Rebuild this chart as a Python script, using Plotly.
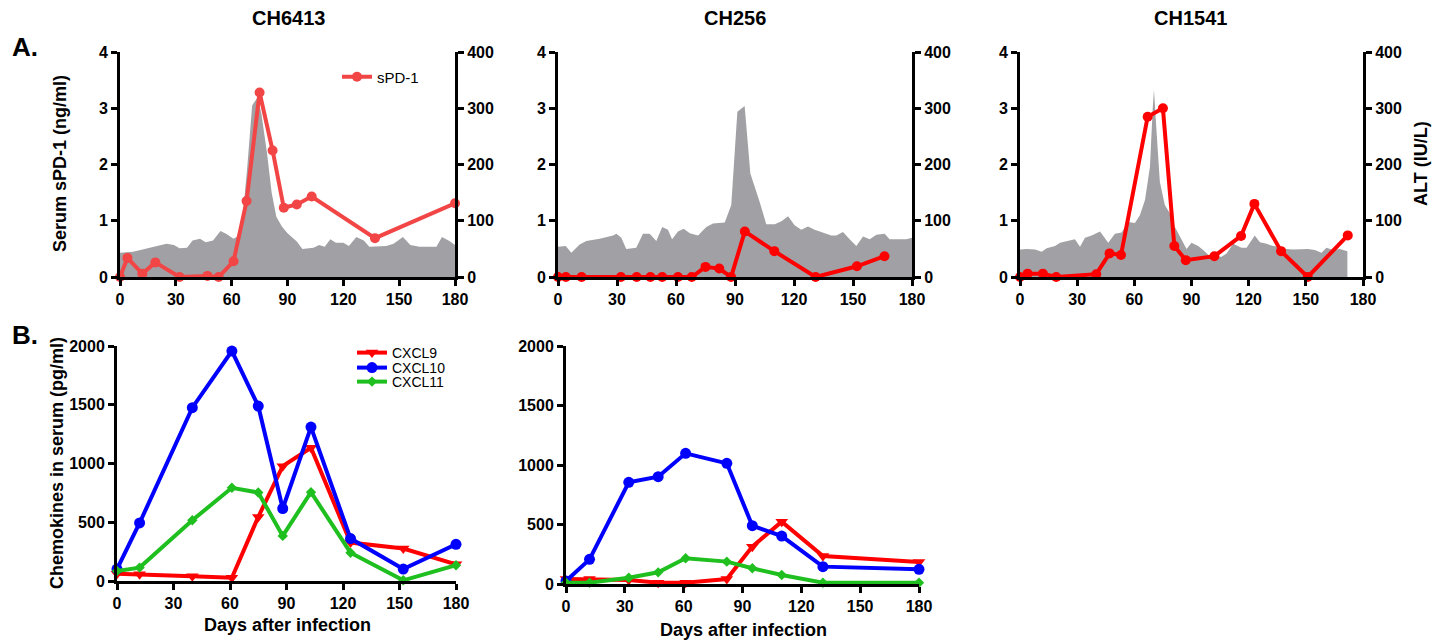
import plotly.graph_objects as go

W, H = 1444, 640
FONT = "Liberation Sans, Arial, sans-serif"

# ---------------- data ----------------
panel_titles = ["CH6413", "CH256", "CH1541"]
x_ticks = [0, 30, 60, 90, 120, 150, 180]
spd_ticks = [0, 1, 2, 3, 4]
alt_ticks = [0, 100, 200, 300, 400]
chemo_ticks = [0, 500, 1000, 1500, 2000]

# CH6413
spd_days_1 = [0, 4, 12, 19, 32, 47, 53, 61, 68, 75, 82, 88, 95, 103, 137, 180]
spd_1 = [0, 0.34, 0.06, 0.26, 0, 0.02, 0, 0.28, 1.35, 3.28, 2.25, 1.23, 1.29, 1.43, 0.69, 1.31]
alt_days_1 = [0, 7, 11, 18, 25, 29, 32, 36, 39, 43, 46, 50, 54, 57, 61, 63, 66, 68.5, 71, 74, 76, 79,
              81.5, 84, 87, 90, 95, 98, 104, 107, 110, 113, 116, 120, 123, 127, 131, 134, 140, 143,
              147, 152, 156, 161, 166, 170, 173, 177, 180]
alt_1 = [43, 45, 48, 54, 59, 57, 51, 52, 65, 68, 62, 65, 82, 77, 68, 72, 110, 200, 305, 320, 290, 220,
         150, 107, 90, 78, 63, 50, 52, 57, 54, 67, 61, 61, 55, 71, 65, 54, 54, 55,
         59, 71, 57, 54, 54, 54, 71, 64, 57]

# CH256
spd_days_2 = [0, 4, 12, 32, 40, 47, 53, 61, 68, 75, 82, 88, 95, 110, 131, 152, 166]
spd_2 = [0, 0, 0, 0, 0, 0, 0, 0, 0, 0.18, 0.15, 0, 0.81, 0.46, 0, 0.19, 0.37]
alt_days_2 = [0, 3.9, 6.8, 11, 14.4, 21.2, 28, 29.7, 32.2, 34.7, 39.8, 43.2, 46.6, 50, 53, 55.9, 58,
              61, 63.9, 67, 71.2, 75.4, 78.8, 84.8, 88.1, 91.2, 94.9, 97.8, 102.5, 105.9, 110.2,
              113.6, 117, 120.3, 123.7, 127.1, 130.5, 133.9, 139, 141.5, 144.9, 148.3, 151.7,
              155.1, 158.5, 161.9, 166.1, 168.6, 173.7, 177.1, 180]
alt_2 = [54, 55, 43, 58, 64, 68, 74, 77, 70, 50, 52, 77, 77, 64, 89, 84, 67, 81, 86, 78, 74, 89, 95,
         97, 128, 294, 304, 184, 134, 94, 94, 99, 108, 92, 84, 90, 84, 80, 74, 74, 80, 67, 55, 72,
         67, 75, 77, 67, 67, 67, 70]

# CH1541
spd_days_3 = [0, 4, 12, 19, 40, 47, 53, 67, 75, 81, 87, 102, 116, 123, 137, 151, 172]
spd_3 = [0, 0.06, 0.06, 0, 0.05, 0.42, 0.39, 2.85, 3.0, 0.55, 0.3, 0.37, 0.73, 1.3, 0.46, 0, 0.74]
alt_days_3 = [0, 3.5, 7.9, 11.4, 14, 18.4, 21, 25.3, 28.8, 31.5, 34.1, 37.6, 42, 46.3, 49.8, 53.3,
              56.8, 60.3, 62.9, 65.6, 68.2, 69.6, 70.3, 71.7, 73.4, 76, 78.7, 81.3, 84.8, 87.4, 90,
              93.5, 96.1, 99.6, 102.3, 105.8, 108.4, 111.9, 116.2, 118.9, 123.2, 125.9, 129.4,
              132.8, 136.3, 139.8, 143.3, 146.8, 151.2, 154.7, 158.2, 160.8, 164.3, 167.8, 171.8]
alt_3 = [49, 50, 49, 45, 51, 55, 61, 65, 67, 54, 70, 74, 81, 61, 77, 79, 98, 96, 110, 137, 196, 297,
         333, 256, 169, 128, 113, 89, 65, 50, 61, 55, 48, 37, 36, 36, 42, 59, 52, 52, 74, 62, 59,
         55, 54, 50, 49, 50, 50, 48, 43, 52, 48, 50, 46]

# Chemokines, CH6413
chemo_days_1 = [0, 12, 40, 61, 75, 88, 103, 124, 152, 180]
cxcl9_1 = [62, 57, 40, 28, 545, 977, 1134, 327, 276, 142]
cxcl10_1 = [102, 494, 1475, 1957, 1489, 617, 1310, 361, 102, 312]
cxcl11_1 = [85, 114, 517, 793, 753, 384, 756, 241, 6, 134]

# Chemokines, CH256
chemo_days_2 = [0, 12, 32, 47, 61, 82, 95, 110, 131, 180]
cxcl9_2 = [42, 42, 34, 11, 11, 42, 314, 524, 235, 185]
cxcl10_2 = [25, 207, 854, 902, 1098, 1014, 490, 403, 146, 123]
cxcl11_2 = [11, 11, 53, 98, 216, 188, 132, 76, 11, 11]

# ---------------- layout helpers ----------------
def fx(p):
    return p / W

def fy(p):
    return 1 - p / H

GRAY = "#a1a1a5"
RED = "#ff0000"
RED1 = "#f24545"
BLUE = "#0000ff"
GREEN = "#1fbf1f"

tickfont = dict(family=FONT, size=16, color="black", weight="bold")

def axis_common(**kw):
    d = dict(showline=True, linecolor="black", linewidth=3, ticks="outside", ticklen=6,
             tickwidth=3, tickcolor="black", showgrid=False, zeroline=False,
             tickfont=tickfont, fixedrange=True, automargin=False)
    d.update(kw)
    return d

fig = go.Figure()

top_x_domains = [(120, 455), (558, 912), (1020, 1363)]
top_y_domain = [fy(277), fy(52)]
spd_sets = [(spd_days_1, spd_1, RED1), (spd_days_2, spd_2, RED), (spd_days_3, spd_3, RED)]
alt_sets = [(alt_days_1, alt_1), (alt_days_2, alt_2), (alt_days_3, alt_3)]

layout = dict(width=W, height=H, autosize=False, margin=dict(l=0, r=0, t=0, b=0, pad=0),
              paper_bgcolor="white", plot_bgcolor="white", showlegend=True, template="none")

for i in range(3):
    xn = "x" if i == 0 else f"x{i+1}"
    ya = 2 * i + 1
    yb = 2 * i + 2
    ya_n = "y" if ya == 1 else f"y{ya}"
    yb_n = f"y{yb}"
    ad, av = alt_sets[i]
    fig.add_trace(go.Scatter(x=ad, y=av, mode="lines", fill="tozeroy", fillcolor=GRAY,
                             line=dict(width=0, color=GRAY), xaxis=xn, yaxis=ya_n,
                             showlegend=False, hoverinfo="skip"))
    sd, sv, col = spd_sets[i]
    fig.add_trace(go.Scatter(x=sd, y=sv, mode="lines+markers", name="sPD-1",
                             line=dict(color=col, width=4), marker=dict(color=col, size=10),
                             xaxis=xn, yaxis=yb_n, cliponaxis=False,
                             showlegend=(i == 0), legend="legend"))
    xkey = "xaxis" if i == 0 else f"xaxis{i+1}"
    layout[xkey] = axis_common(domain=[fx(top_x_domains[i][0]), fx(top_x_domains[i][1])],
                               range=[0, 180], tickvals=x_ticks, anchor=ya_n)
    yak = "yaxis" if ya == 1 else f"yaxis{ya}"
    layout[yak] = axis_common(domain=top_y_domain, range=[0, 400], tickvals=alt_ticks,
                              side="right", anchor=xn)
    layout[f"yaxis{yb}"] = axis_common(range=[0, 4], tickvals=spd_ticks, side="left",
                                       overlaying=ya_n, anchor=xn)

# bottom panels
bot_sets = [
    (chemo_days_1, cxcl9_1, cxcl10_1, cxcl11_1, (117, 456), (581, 346)),
    (chemo_days_2, cxcl9_2, cxcl10_2, cxcl11_2, (566, 919), (584, 346)),
]
legend_names = ["legend2", "legend3", "legend4"]
for j, (cd, c9, c10, c11, xd, yd) in enumerate(bot_sets):
    xn = f"x{4+j}"
    yn = f"y{7+j}"
    series = [("CXCL9", c9, RED, "triangle-down", 11),
              ("CXCL10", c10, BLUE, "circle", 11),
              ("CXCL11", c11, GREEN, "diamond", 8)]
    for k, (nm, vals, col, sym, sz) in enumerate(series):
        fig.add_trace(go.Scatter(x=cd, y=vals, mode="lines+markers", name=nm,
                                 line=dict(color=col, width=4),
                                 marker=dict(color=col, symbol=sym, size=sz),
                                 xaxis=xn, yaxis=yn, cliponaxis=False,
                                 showlegend=(j == 0), legend=legend_names[k]))
    layout[f"xaxis{4+j}"] = axis_common(domain=[fx(xd[0]), fx(xd[1])], range=[0, 180],
                                        tickvals=x_ticks, anchor=yn)
    layout[f"yaxis{7+j}"] = axis_common(domain=[fy(yd[0]), fy(yd[1])], range=[0, 2000],
                                        tickvals=chemo_ticks, anchor=xn)

legfont = dict(family=FONT, size=15, color="black")
layout["legend"] = dict(x=fx(337), y=fy(77), xanchor="left", yanchor="middle", font=legfont,
                        bgcolor="rgba(0,0,0,0)", borderwidth=0)
for k, yy in enumerate([353, 368, 382]):
    layout[legend_names[k]] = dict(x=fx(352), y=fy(yy), xanchor="left", yanchor="middle",
                                   font=dict(family=FONT, size=14, color="black"),
                                   bgcolor="rgba(0,0,0,0)", borderwidth=0)

fig.update_layout(**layout)

# text annotations
anns = []
centers = [288, 735, 1190]
for t, cx in zip(panel_titles, centers):
    anns.append(dict(text=t, x=fx(cx), y=fy(18), xref="paper", yref="paper", showarrow=False,
                     xanchor="center", yanchor="middle",
                     font=dict(family=FONT, size=20, color="black", weight="bold")))
anns.append(dict(text="A.", x=fx(10), y=fy(47), xref="paper", yref="paper", showarrow=False,
                 xanchor="left", yanchor="middle",
                 font=dict(family=FONT, size=26, color="black", weight="bold")))
anns.append(dict(text="B.", x=fx(10), y=fy(335), xref="paper", yref="paper", showarrow=False,
                 xanchor="left", yanchor="middle",
                 font=dict(family=FONT, size=26, color="black", weight="bold")))
titlefont = dict(family=FONT, size=18, color="black", weight="bold")
anns.append(dict(text="Serum sPD-1 (ng/ml)", x=fx(60), y=fy(164), xref="paper", yref="paper",
                 showarrow=False, textangle=-90, xanchor="center", yanchor="middle", font=titlefont))
anns.append(dict(text="ALT (IU/L)", x=fx(1421), y=fy(164), xref="paper", yref="paper",
                 showarrow=False, textangle=-90, xanchor="center", yanchor="middle", font=titlefont))
anns.append(dict(text="Chemokines in serum (pg/ml)", x=fx(57), y=fy(463), xref="paper",
                 yref="paper", showarrow=False, textangle=-90, xanchor="center",
                 yanchor="middle", font=titlefont))
anns.append(dict(text="Days after infection", x=fx(287), y=fy(625), xref="paper", yref="paper",
                 showarrow=False, xanchor="center", yanchor="middle", font=titlefont))
anns.append(dict(text="Days after infection", x=fx(743), y=fy(630), xref="paper", yref="paper",
                 showarrow=False, xanchor="center", yanchor="middle", font=titlefont))
fig.update_layout(annotations=anns)

post = (
    "document.documentElement.style.margin='0';"
    "document.documentElement.style.overflow='hidden';"
    "document.body.style.margin='0';"
    "document.body.style.overflow='hidden';"
    "var gd=document.getElementById('{plot_id}');"
    "var wrap=gd.parentElement;"
    "wrap.style.position='fixed';wrap.style.left='0px';wrap.style.top='0px';"
    "wrap.style.margin='0';"
)
fig.write_html("out.html", config={"displayModeBar": False}, post_script=post)
